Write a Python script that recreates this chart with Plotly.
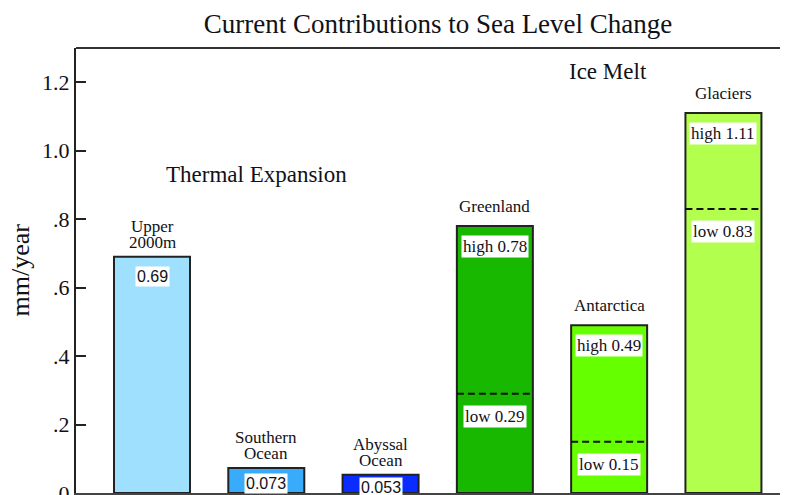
import plotly.graph_objects as go

# ---- data ----
categories = ["Upper<br>2000m", "Southern<br>Ocean", "Abyssal<br>Ocean", "Greenland", "Antarctica", "Glaciers"]
values = [0.69, 0.073, 0.053, 0.78, 0.49, 1.11]
low_values = [None, None, None, 0.29, 0.15, 0.83]
top_labels = ["0.69", "0.073", "0.053", "high 0.78", "high 0.49", "high 1.11"]
low_labels = [None, None, None, "low 0.29", "low 0.15", "low 0.83"]
ytick_vals = [0, 0.2, 0.4, 0.6, 0.8, 1.0, 1.2]
ytick_text = ["0", ".2", ".4", ".6", ".8", "1.0", "1.2"]
group_labels = ["Thermal Expansion", "Ice Melt"]
title_text = "Current Contributions to Sea Level Change"
y_title = "mm/year"

# ---- styles / layout constants ----
bar_colors = ["#a0e0ff", "#38acfa", "#0a2cff", "#18b800", "#66ff00", "#b3ff4d"]
SERIF = "Liberation Serif"
SANS = "Liberation Sans"
TXT = "#111118"
BAR_W = 0.665
Y_MAX = 1.3
W, H = 788, 495
M_L, M_R, M_T, M_B = 68, 8, 40, 10
PLOT_W = W - M_L - M_R
PLOT_H = H - M_T - M_B
PX_PER_UNIT = PLOT_H / Y_MAX
group_pos = [(0.91, 0.93), (3.99, 1.23)]

xs = list(range(len(categories)))

fig = go.Figure()
fig.add_trace(go.Bar(
    x=xs, y=values, width=BAR_W,
    marker=dict(color=bar_colors, line=dict(color="#222222", width=2)),
    hoverinfo="skip", showlegend=False,
))

annotations = []
shapes = []

for i, (cat, v, lo, tl, ll) in enumerate(zip(categories, values, low_values, top_labels, low_labels)):
    # category label above bar, line by line
    lines = cat.split("<br>")
    base = 3 if len(lines) > 1 else 8
    for k, line in enumerate(reversed(lines)):
        annotations.append(dict(
            x=i, y=v, xref="x", yref="y", text=line, showarrow=False,
            xanchor="center", yanchor="bottom", yshift=base + 16 * k,
            font=dict(family=SERIF, size=17, color=TXT),
        ))
    # top value label (kept inside short bars)
    top_px = v * PX_PER_UNIT
    shift = max(2, min(9, top_px - 20))
    annotations.append(dict(
        x=i, y=v, xref="x", yref="y", text=tl, showarrow=False,
        xanchor="center", yanchor="top", yshift=-shift,
        bgcolor="white", borderpad=1,
        font=dict(family=SANS if lo is None else SERIF, size=16 if lo is None else 17, color=TXT),
    ))
    if lo is not None:
        shapes.append(dict(
            type="line", xref="x", yref="y",
            x0=i - BAR_W / 2, x1=i + BAR_W / 2, y0=lo, y1=lo,
            line=dict(color="#111111", width=2, dash="7px,4px"),
        ))
        annotations.append(dict(
            x=i, y=lo, xref="x", yref="y", text=ll, showarrow=False,
            xanchor="center", yanchor="top", yshift=-11,
            bgcolor="white", borderpad=1,
            font=dict(family=SERIF, size=17, color=TXT),
        ))

for g, (gx, gy) in zip(group_labels, group_pos):
    annotations.append(dict(
        x=gx, y=gy, xref="x", yref="y", text=g, showarrow=False,
        xanchor="center", yanchor="middle",
        font=dict(family=SERIF, size=23, color=TXT),
    ))

# y-axis title
annotations.append(dict(
    x=(12 - M_L) / PLOT_W, y=0.5, xref="paper", yref="paper", text=y_title, showarrow=False,
    textangle=-90, xanchor="center", yanchor="middle",
    font=dict(family=SERIF, size=26, color=TXT),
))

# top border line
shapes.append(dict(
    type="line", xref="paper", yref="paper", x0=0, x1=1, y0=1, y1=1,
    line=dict(color="#333333", width=2),
))

fig.update_layout(
    width=W, height=H,
    margin=dict(l=M_L, r=M_R, t=M_T, b=M_B, pad=0),
    paper_bgcolor="white", plot_bgcolor="white",
    template="none",
    title=dict(text=title_text, x=430 / W, xref="container", xanchor="center",
               y=1 - 16 / H, yref="container", yanchor="middle",
               font=dict(family=SERIF, size=27, color=TXT)),
    xaxis=dict(range=[-0.665, 5.565], showticklabels=False, ticks="",
               showgrid=False, zeroline=False, showline=True,
               linecolor="#444444", linewidth=3, automargin=False, fixedrange=True),
    yaxis=dict(range=[0, Y_MAX], tickvals=ytick_vals, ticktext=ytick_text,
               ticks="inside", ticklen=10, tickwidth=2, tickcolor="#222222",
               tickfont=dict(family=SERIF, size=22, color=TXT),
               showgrid=False, zeroline=False, showline=True,
               linecolor="#222222", linewidth=2, automargin=False,
               ticklabelstandoff=0, ticklabeloverflow="allow", fixedrange=True),
    annotations=annotations,
    shapes=shapes,
    showlegend=False,
)

fig.write_html("out.html")
